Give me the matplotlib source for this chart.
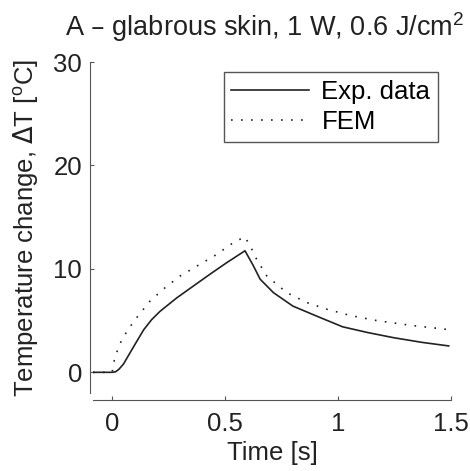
import matplotlib.pyplot as plt
import numpy as np

# experimental curve
exp_t = [-0.085, 0.0, 0.015, 0.03, 0.05, 0.09, 0.139, 0.175, 0.212, 0.286, 0.36, 0.434, 0.507, 0.588,
         0.625, 0.655, 0.714, 0.80, 0.92, 1.02, 1.13, 1.245, 1.37, 1.49]
exp_dT = [0.0, 0.0, 0.05, 0.3, 0.8, 2.3, 4.1, 5.1, 5.9, 7.2, 8.35, 9.5, 10.6, 11.75,
          10.3, 9.0, 7.7, 6.4, 5.3, 4.4, 3.85, 3.35, 2.9, 2.55]

# FEM curve
fem_t = [-0.085, 0.0, 0.006, 0.018, 0.035, 0.058, 0.072, 0.109, 0.168, 0.235, 0.30, 0.389, 0.463,
         0.537, 0.588, 0.618, 0.64, 0.685, 0.773, 0.861, 0.95, 1.053, 1.171, 1.319, 1.481]
fem_dT = [0.0, 0.0, 0.9, 1.8, 2.8, 3.7, 4.2, 5.3, 6.9, 8.2, 9.3, 10.45, 11.4,
          12.55, 13.1, 11.9, 10.9, 9.3, 7.7, 6.75, 6.1, 5.5, 5.0, 4.55, 4.15]

xticks = [0, 0.5, 1, 1.5]
xticklabels = ['0', '0.5', '1', '1.5']
yticks = [0, 10, 20, 30]

plt.rcParams['font.family'] = ['Liberation Sans', 'DejaVu Sans']
plt.rcParams['font.size'] = 18.5

fig = plt.figure(figsize=(4.7, 4.71), dpi=100)
ax = fig.add_axes([93/470, 78/471, 358/470, 331/471])

ax.plot(exp_t, exp_dT, color='#222222', lw=1.2, label='Exp. data')
ax.plot(fem_t, fem_dT, color='#222222', lw=1.2, ls=(0, (1, 5)), label='FEM')

ax.set_xlim(-0.085, 1.5)
ax.set_ylim(-2, 30)
ax.set_xticks(xticks)
ax.set_xticklabels(xticklabels)
ax.set_yticks(yticks)

for s in ['top', 'right']:
    ax.spines[s].set_visible(False)
ax.spines['bottom'].set_position(('outward', 5))
ax.spines['left'].set_position(('outward', 2))
ax.spines['bottom'].set_color('#555555')
ax.spines['left'].set_color('#555555')
ax.tick_params(direction='in', length=3, color='#555555', labelcolor='#222222', pad=6)
ax.tick_params(axis='x', pad=9)

ax.set_xlabel('Time [s]', labelpad=3, color='#222222')
ax.set_ylabel(r'Temperature change, $\Delta$T [$^\mathregular{o}$C]', color='#222222', labelpad=9)

fig.text(0.564, 1 - 27/471, r'A – glabrous skin, 1 W, 0.6 J/cm$^\mathregular{2}$',
         ha='center', va='center', color='#222222', fontsize=19.5)

leg = ax.legend(loc='upper right', fancybox=False, framealpha=1,
                edgecolor='#555555', borderpad=0.3, handlelength=3.0, handletextpad=0.5,
                labelspacing=0.25, borderaxespad=0)
leg.get_frame().set_linewidth(1.0)
leg.set_bbox_to_anchor((438/470, (471 - 72) / 471), transform=fig.transFigure)

fig.savefig('out.png', dpi=100)
